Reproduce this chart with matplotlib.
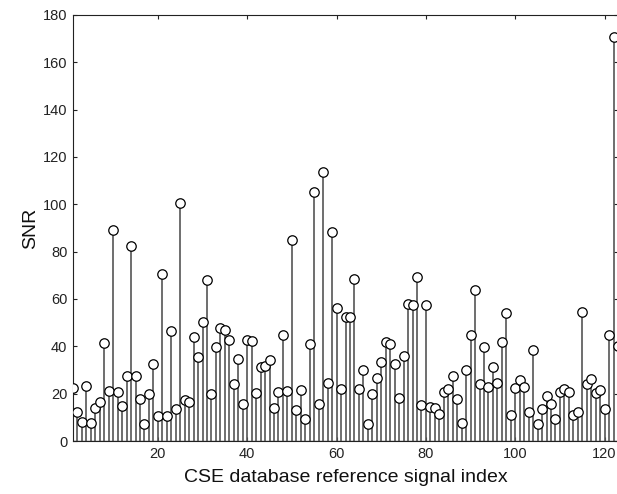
import numpy as np
import matplotlib
matplotlib.use("Agg")
from matplotlib import pyplot as plt

# SNR per reference signal (index 1..123)
snr_1_25 = [22.3, 12.3, 8.0, 23.2, 7.6, 14.1, 16.6, 41.3, 21.1, 89.0,
            20.7, 14.6, 27.5, 82.5, 27.5, 17.6, 7.3, 20.0, 32.4, 10.6,
            70.4, 10.6, 46.5, 13.4, 100.6]
snr_26_50 = [17.2, 16.5, 44.1, 35.6, 50.4, 67.9, 19.7, 39.9, 47.9, 46.8,
             42.5, 23.9, 34.5, 15.5, 42.5, 42.3, 20.4, 31.3, 31.7, 34.1,
             14.1, 20.7, 44.6, 21.1, 85.0]
snr_51_75 = [13.0, 21.4, 9.2, 41.0, 105.0, 15.5, 113.6, 24.4, 88.5, 56.0,
             22.0, 52.4, 52.4, 68.6, 22.0, 30.0, 7.3, 20.0, 26.5, 33.5,
             41.8, 41.0, 32.4, 18.0, 36.0]
snr_76_100 = [57.7, 57.3, 69.4, 15.2, 57.3, 14.4, 14.0, 11.5, 20.8, 21.8,
              27.5, 17.9, 7.5, 30.0, 44.8, 63.7, 24.2, 39.7, 22.8, 31.3,
              24.5, 42.0, 54.2, 10.8, 22.3]
snr_101_123 = [25.8, 22.8, 12.3, 38.3, 7.3, 13.4, 19.0, 15.5, 9.2, 20.7,
               21.8, 20.8, 10.8, 12.3, 54.5, 24.2, 26.3, 20.1, 21.4, 13.7,
               44.6, 170.7, 40.0]

snr = np.array(snr_1_25 + snr_26_50 + snr_51_75 + snr_76_100 + snr_101_123)
idx = np.arange(1, len(snr) + 1)

plt.rcParams["font.family"] = ["Liberation Sans", "DejaVu Sans"]

fig = plt.figure(figsize=(6.17, 4.94), dpi=100)
ax = fig.add_axes([73 / 617, 53 / 494, 545 / 617, 426 / 494])

markerline, stemlines, baseline = ax.stem(idx, snr, linefmt="-", markerfmt="o", basefmt="-")
plt.setp(stemlines, color="#555555", linewidth=1.2)
plt.setp(markerline, markersize=6.8, markerfacecolor="white",
         markeredgecolor="black", markeredgewidth=0.9, zorder=3)
plt.setp(baseline, color="#555555", linewidth=1.0)

ax.set_xlim(1, 123)
ax.set_ylim(0, 180)
ax.set_xticks([20, 40, 60, 80, 100, 120])
ax.set_yticks(np.arange(0, 181, 20))
ax.tick_params(direction="in", length=3, labelsize=10.5, colors="#222222",
               top=True, right=True, pad=4)
for s in ax.spines.values():
    s.set_color("#222222")
    s.set_linewidth(0.8)

ax.set_xlabel("CSE database reference signal index", fontsize=14, color="#111111", labelpad=6)
ax.set_ylabel("SNR", fontsize=14, color="#111111", labelpad=3)

fig.savefig("out.png", dpi=100)
